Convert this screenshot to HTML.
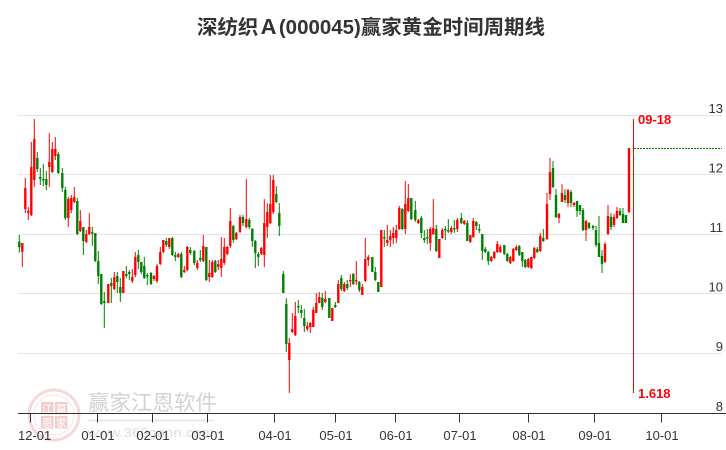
<!DOCTYPE html>
<html>
<head>
<meta charset="utf-8">
<style>
html,body{margin:0;padding:0;background:#fff;}
svg{display:block;}
</style>
</head>
<body>
<svg width="726" height="450" viewBox="0 0 726 450" xmlns="http://www.w3.org/2000/svg">
<rect width="726" height="450" fill="#fff"/>
<!-- title -->
<text x="197" y="34" font-family="'Liberation Sans','Noto Sans CJK SC',sans-serif" font-size="20" font-weight="bold" fill="#333" textLength="348" lengthAdjust="spacingAndGlyphs">深纺织Ａ(000045)赢家黄金时间周期线</text>

<!-- gridlines -->
<g stroke="#e3e3e3" stroke-width="1">
<line x1="18" y1="115.5" x2="722" y2="115.5"/>
<line x1="18" y1="174.5" x2="722" y2="174.5"/>
<line x1="18" y1="234.5" x2="722" y2="234.5"/>
<line x1="18" y1="293.5" x2="722" y2="293.5"/>
<line x1="18" y1="353.5" x2="722" y2="353.5"/>
</g>

<!-- watermark -->
<g opacity="1">
<circle cx="54" cy="415" r="25" fill="none" stroke="#f6d8d8" stroke-width="3"/>
<circle cx="54" cy="415" r="20" fill="none" stroke="#f9e4e4" stroke-width="1"/>
<rect x="41" y="402" width="12.5" height="12.5" fill="#f3cccc"/>
<rect x="55" y="402" width="12.5" height="12.5" fill="#f3cccc"/>
<rect x="41" y="416" width="12.5" height="12.5" fill="#f3cccc"/>
<rect x="55" y="416" width="12.5" height="12.5" fill="#f3cccc"/>
<g font-family="'Liberation Sans','Noto Sans CJK SC',sans-serif" font-size="10.5" fill="#fff" text-anchor="middle">
<text x="47.2" y="412.5">江</text>
<text x="61.2" y="412.5">赢</text>
<text x="47.2" y="426.5">恩</text>
<text x="61.2" y="426.5">家</text>
</g>
<text x="88" y="410" font-family="'Liberation Sans','Noto Sans CJK SC',sans-serif" font-size="21" fill="#d2d2d2" textLength="129" lengthAdjust="spacingAndGlyphs">赢家江恩软件</text>
<line x1="88" y1="420.5" x2="214" y2="420.5" stroke="#e6e6e6" stroke-width="1.5"/>
<text x="88" y="437" font-family="'Liberation Sans',sans-serif" font-size="13" fill="#dedede" textLength="126" lengthAdjust="spacingAndGlyphs">www.360gann.com</text>
</g>

<!-- candles red -->
<path fill="none" stroke="#ff0000" stroke-width="1" d="M22.3 243V267 M25.3 178V213 M28.3 207V220 M31.3 142V216 M34.3 119V187 M49.3 133V187 M52.3 142V173 M55.3 137V160 M68.3 197V227 M71.3 195V213 M74.3 187V203 M80.3 210V232 M86.3 230V243 M89.3 213V235 M108.3 284V303 M114.3 272V290 M123.3 271V293 M132.3 269V283 M135.3 252V277 M154 275V281 M157 264V283 M160.3 247V265 M163.3 240V253 M169.3 238V249 M178.3 253V258 M184.3 266V273 M187.3 246V271 M197.3 260V270 M203.3 235V262 M209.3 260V282 M212.3 260V278 M218.3 260V270 M221.3 237V277 M224.3 238V265 M227.3 246V255 M230.3 208V248 M236.3 232V240 M240 215V233 M246.3 179V228 M261.3 247V255 M264.3 199V267 M267.3 203V238 M270.3 175V224 M273.3 175V214 M289.3 338V393 M292.3 313V333 M295.3 302V336 M307.3 322V331 M310.3 322V333 M313.3 307V327 M316.3 293V313 M319.3 292V303 M325.3 291V303 M332.3 308V321 M338.3 280V303 M344.3 282V292 M350.3 274V287 M356.3 261V285 M362.3 284V295 M365.3 238V282 M368.3 255V266 M381.3 230V287 M387.3 225V246 M390.3 230V247 M393.3 227V244 M396.3 225V243 M399.3 206V230 M405.3 181V234 M408.3 184V212 M418.3 219V224 M430.3 227V251 M433.3 199V235 M439.3 239V258 M442.3 228V239 M451.3 226V234 M457.3 218V232 M464.3 220V225 M470.3 235V243 M473.3 218V238 M491.3 256V262 M494.3 251V259 M497.3 241V253 M500.3 245V253 M510.3 256V264 M513.3 248V262 M516.3 245V251 M528.3 258V268 M531.3 257V269 M534.3 247V259 M540.3 233V252 M547 193V240 M550 158V200 M559 213V223 M562 184V202 M568 189V207 M574 202V207 M586 220V241 M605 242V263 M608 205V235 M614 214V227 M617 207V219 M629 148V213"/>
<path fill="none" stroke="#ff0000" stroke-width="2.4" d="M22.3 243V251.7 M25.3 188V209 M28.3 211V213 M31.3 167V215 M34.3 139V180 M49.3 162V167 M52.3 149V172 M55.3 149V156 M68.3 199V218 M71.3 198V210 M74.3 197V202 M80.3 221V231 M86.3 234V242 M89.3 227V234 M108.3 284V303 M114.3 277V289 M123.3 271V293 M132.3 277V281 M135.3 257V275 M154 276V279 M157 266V281 M160.3 252V264 M163.3 240V252 M169.3 238V247 M178.3 254V257 M184.3 270V272 M187.3 247V270 M197.3 263V268 M203.3 246V261 M209.3 273V277 M212.3 262V277 M218.3 264V267 M221.3 259V268 M224.3 247V263 M227.3 247V254 M230.3 221V246 M236.3 233V239 M240 217V232 M246.3 219V227 M261.3 248V254 M264.3 223V255 M267.3 212V227 M270.3 204V223 M273.3 180V212 M289.3 343V360 M292.3 329V332 M295.3 316V335 M307.3 326V329 M310.3 323V327 M313.3 310V327 M316.3 303V313 M319.3 297V303 M325.3 299V302 M332.3 308V321 M338.3 284V303 M344.3 284V291 M350.3 280V281.5 M356.3 280V281.5 M362.3 287V295 M365.3 259V281 M368.3 257V260 M381.3 230V287 M387.3 240V243 M390.3 236V240 M393.3 233V238 M396.3 230V238 M399.3 208V229 M405.3 204V229 M408.3 198V211 M418.3 220V223 M430.3 229V243 M433.3 228V234 M439.3 239V258 M442.3 230V238 M451.3 228V232 M457.3 220V229 M464.3 221V224 M470.3 235V242 M473.3 221V237 M491.3 257V261 M494.3 252V258 M497.3 244V252 M500.3 247V252 M510.3 257V263 M513.3 249V261 M516.3 247V250 M528.3 259V267 M531.3 257V268 M534.3 248V258 M540.3 236V251 M547 204V239 M550 172V194 M559 214V218 M562 193V202 M568 190V203 M574 203V205 M586 221V230 M605 244V262 M608 216V234 M614 217V225 M617 211V218 M629 148V212"/>

<!-- candles green -->
<path fill="none" stroke="#008000" stroke-width="1" d="M19.3 235V252.7 M37.3 152V172 M40.3 168V185 M43.3 164V186 M46.3 171V190 M58.3 152V174 M62.3 168V192 M65.3 187V220 M77.3 198V235 M83.3 227V255 M92.3 227V246 M95.3 233V262 M98.3 251V284 M101.3 274V305 M104.3 292V328 M111.3 278V303 M117.3 272V293 M120.3 278V302 M126.3 266V278 M129.3 270V280 M138.3 250V269 M141.3 262V274 M144.3 257V279 M147.3 273V285 M151 272V285 M166.3 238V247 M172.3 237V256 M175.3 252V261 M181.3 252V278 M190.3 247V255 M194.3 250V265 M200.3 250V262 M206.3 247V281 M215.3 260V273 M233.3 225V243 M243 215V226 M249.3 218V229 M252.3 228V247 M255.3 240V268 M258.3 252V266 M276.3 186V203 M279.3 203V236 M283.3 271V293 M286.3 298V352 M298.3 300V313 M301.3 305V318 M304.3 309V332 M322.3 293V310 M329.3 298V318 M335.3 302V308 M341.3 275V291 M347.3 280V290 M353.3 273V285 M359.3 281V292 M372.3 257V272 M375.3 267V281 M378.3 282V292 M384.3 230V247 M402.3 208V230 M411.3 198V220 M415.3 201V222 M421.3 216V238 M424.3 230V243 M427.3 229V244 M436.3 225V252 M445.3 226V240 M448.3 219V233 M454.3 220V233 M461.3 213V224 M467.3 220V241 M476.3 221V230 M479.3 224V233 M482.3 234V260 M485.3 247V253 M488.3 251V265 M504.3 245V255 M507.3 253V262 M519.3 245V256 M522.3 252V267 M525.3 259V268 M537.3 247V253 M543.3 229V242 M553 161V188 M556 189V218 M565 189V203 M571 190V207 M577 201V217 M580 205V215 M583 208V231 M589 222V229 M593 225V230 M596 226V247 M599 216V257 M602 250V273 M611 213V230 M620 208V216 M623 208V223 M626 215V223"/>
<path fill="none" stroke="#008000" stroke-width="2.4" d="M19.3 241.7V247.3 M37.3 158V169 M40.3 177V179 M43.3 179V180.5 M46.3 179V185 M58.3 154V173 M62.3 173V188 M65.3 190V218 M77.3 201V234 M83.3 227V241 M92.3 232V233.5 M95.3 233V261 M98.3 261V276 M101.3 274V304 M104.3 301V303 M111.3 283V286 M117.3 276V282 M120.3 287V293 M126.3 274V276 M129.3 272V274 M138.3 255V262 M141.3 262V272 M144.3 266V278 M147.3 275V276.5 M151 273V284 M166.3 241V245 M172.3 238V255 M175.3 255V257 M181.3 254V277 M190.3 250V253 M194.3 251V263 M200.3 258V260 M206.3 247V280 M215.3 261V272 M233.3 226V240 M243 217V223 M249.3 220V227 M252.3 229V241 M255.3 241V253 M258.3 254V257 M276.3 194V202 M279.3 213V226 M283.3 274V293 M286.3 304V344 M298.3 306V307.5 M301.3 310V313 M304.3 318V326 M322.3 298V307 M329.3 298V318 M335.3 305V307 M341.3 278V289 M347.3 284V288 M353.3 274V284 M359.3 282V290 M372.3 257V272 M375.3 272V280 M378.3 282V292 M384.3 237V238.5 M402.3 209V229 M411.3 198V219 M415.3 210V220 M421.3 218V233 M424.3 238V240 M427.3 237V238.5 M436.3 229V251 M445.3 229V230.5 M448.3 230V231.5 M454.3 228V229.5 M461.3 218V223 M467.3 223V241 M476.3 222V226 M479.3 229V230.5 M482.3 234V251 M485.3 249V252 M488.3 252V261 M504.3 245V254 M507.3 254V261 M519.3 246V255 M522.3 252V261 M525.3 260V267 M537.3 249V252 M543.3 238V241 M553 168V187 M556 195V217 M565 195V200 M571 192V203 M577 201V211 M580 205V211 M583 210V230 M589 223V228 M593 226V228 M596 230V245 M599 243V257 M602 256V264 M611 217V227 M620 211V215 M623 214V223 M626 215V223"/>

<!-- time cycle marker -->
<line x1="633.5" y1="119" x2="633.5" y2="393" stroke="#ff0000" stroke-width="1"/>
<line x1="634" y1="148.5" x2="722" y2="148.5" stroke="#008000" stroke-width="1" stroke-dasharray="2,1"/>
<g font-family="'Liberation Sans',sans-serif" font-size="13" font-weight="bold" fill="#ff0000">
<text x="638" y="124">09-18</text>
<text x="638" y="398">1.618</text>
</g>

<!-- right axis labels -->
<g font-family="'Liberation Sans',sans-serif" font-size="13" fill="#333" text-anchor="end">
<text x="723" y="113">13</text>
<text x="723" y="172.5">12</text>
<text x="723" y="232">11</text>
<text x="723" y="291.5">10</text>
<text x="723" y="351">9</text>
<text x="723" y="411">8</text>
</g>

<!-- x axis -->
<line x1="18" y1="413.5" x2="726" y2="413.5" stroke="#333" stroke-width="1"/>
<g stroke="#333" stroke-width="1">
<line x1="30.5" y1="413.5" x2="30.5" y2="422.5"/>
<line x1="97.5" y1="413.5" x2="97.5" y2="422.5"/>
<line x1="152.5" y1="413.5" x2="152.5" y2="422.5"/>
<line x1="207.5" y1="413.5" x2="207.5" y2="422.5"/>
<line x1="274.5" y1="413.5" x2="274.5" y2="422.5"/>
<line x1="335.5" y1="413.5" x2="335.5" y2="422.5"/>
<line x1="395.5" y1="413.5" x2="395.5" y2="422.5"/>
<line x1="459.5" y1="413.5" x2="459.5" y2="422.5"/>
<line x1="528.5" y1="413.5" x2="528.5" y2="422.5"/>
<line x1="594.5" y1="413.5" x2="594.5" y2="422.5"/>
<line x1="661.5" y1="413.5" x2="661.5" y2="422.5"/>
</g>
<g font-family="'Liberation Sans',sans-serif" font-size="13" fill="#333" text-anchor="middle">
<text x="18" y="440" text-anchor="start">12-01</text>
<text x="98" y="440">01-01</text>
<text x="153" y="440">02-01</text>
<text x="208" y="440">03-01</text>
<text x="275" y="440">04-01</text>
<text x="336" y="440">05-01</text>
<text x="396" y="440">06-01</text>
<text x="460" y="440">07-01</text>
<text x="529" y="440">08-01</text>
<text x="595" y="440">09-01</text>
<text x="662" y="440">10-01</text>
</g>
</svg>
</body>
</html>
